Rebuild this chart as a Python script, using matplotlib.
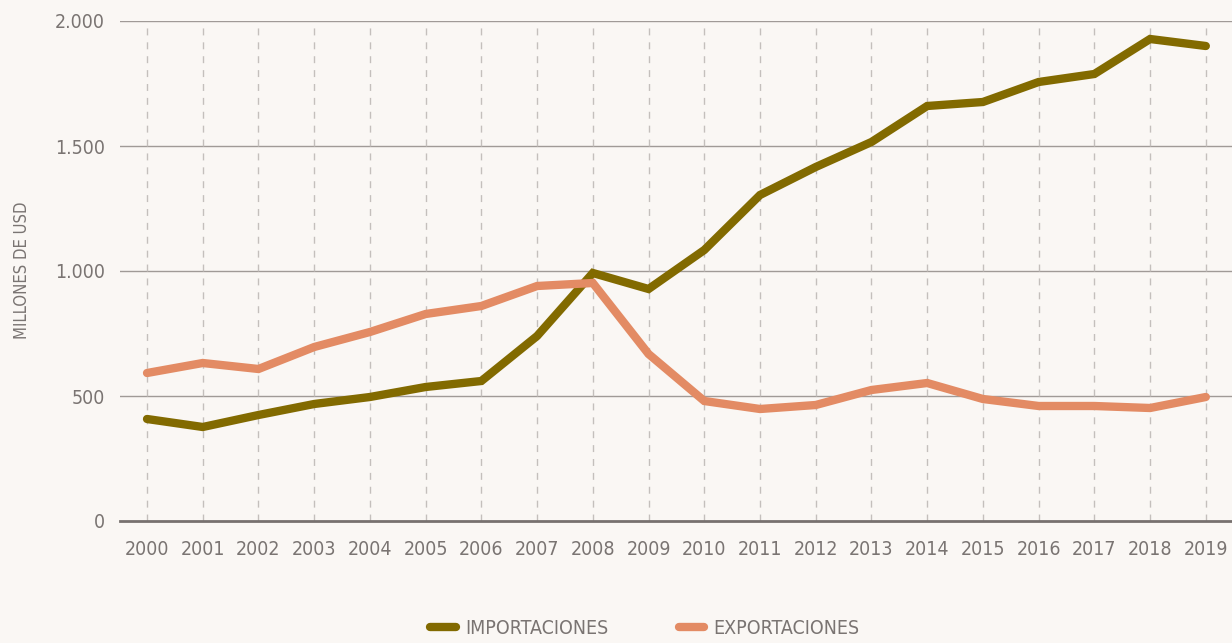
import matplotlib
matplotlib.use("Agg")
import matplotlib.pyplot as plt
from matplotlib.ticker import FuncFormatter
from matplotlib.lines import Line2D

years = list(range(2000, 2020))
importaciones = [408, 376, 424, 468, 496, 536, 560, 740, 992, 928,
                 1084, 1304, 1416, 1516, 1660, 1676, 1756, 1788, 1928, 1900]
exportaciones = [592, 632, 608, 696, 756, 828, 860, 940, 952, 668,
                 480, 448, 464, 524, 552, 488, 460, 460, 452, 496]
y_ticks = [0, 500, 1000, 1500, 2000]

bg = "#faf7f4"
text_color = "#7a7472"
olive = "#826a00"
salmon = "#e38b64"

plt.rcParams['font.family'] = ['DejaVu Sans']
plt.rcParams['font.stretch'] = 'condensed'

fig = plt.figure(figsize=(12.32, 6.43), dpi=100, facecolor=bg)
ax = fig.add_axes([120/1232, 1-521/643, 1-120/1232, 500/643])
ax.set_facecolor(bg)

ax.set_xlim(1999.515, 2019.47)
ax.set_ylim(0, 2000)

# grid
for y in y_ticks[1:]:
    ax.axhline(y, color="#a09a97", lw=1.0, zorder=1)
for x in years:
    ax.axvline(x, color="#c4bfbc", lw=1.0, ls=(0, (5, 5)), zorder=1)

ax.plot(years, importaciones, color=olive, lw=6, solid_capstyle="round",
        solid_joinstyle="miter", zorder=3)
ax.plot(years, exportaciones, color=salmon, lw=6, solid_capstyle="round",
        solid_joinstyle="miter", zorder=3)

for s in ["top", "right", "left"]:
    ax.spines[s].set_visible(False)
ax.spines["bottom"].set_color("#77716f")
ax.spines["bottom"].set_linewidth(2)

ax.set_xticks(years)
ax.set_xticklabels([str(y) for y in years])
ax.set_yticks(y_ticks)
ax.yaxis.set_major_formatter(FuncFormatter(lambda v, p: f"{int(v):,}".replace(",", ".")))
ax.tick_params(axis="both", length=0, labelsize=14, colors=text_color)
ax.tick_params(axis="x", pad=14)
ax.tick_params(axis="y", pad=11)

fig.text(22/1232, 1-270/643, "MILLONES DE USD", rotation=90, ha="center", va="center",
         fontsize=12, color=text_color)

handles = [Line2D([0], [0], color=olive, lw=6, solid_capstyle="round"),
           Line2D([0], [0], color=salmon, lw=6, solid_capstyle="round")]
fig.legend(handles, ["IMPORTACIONES", "EXPORTACIONES"], loc="center",
           bbox_to_anchor=(645/1232, 1-628/643), ncol=2, frameon=False,
           fontsize=14, labelcolor=text_color, handlelength=1.3, columnspacing=3.6,
           handletextpad=0.5)

fig.savefig("out.png", dpi=100, facecolor=bg)
